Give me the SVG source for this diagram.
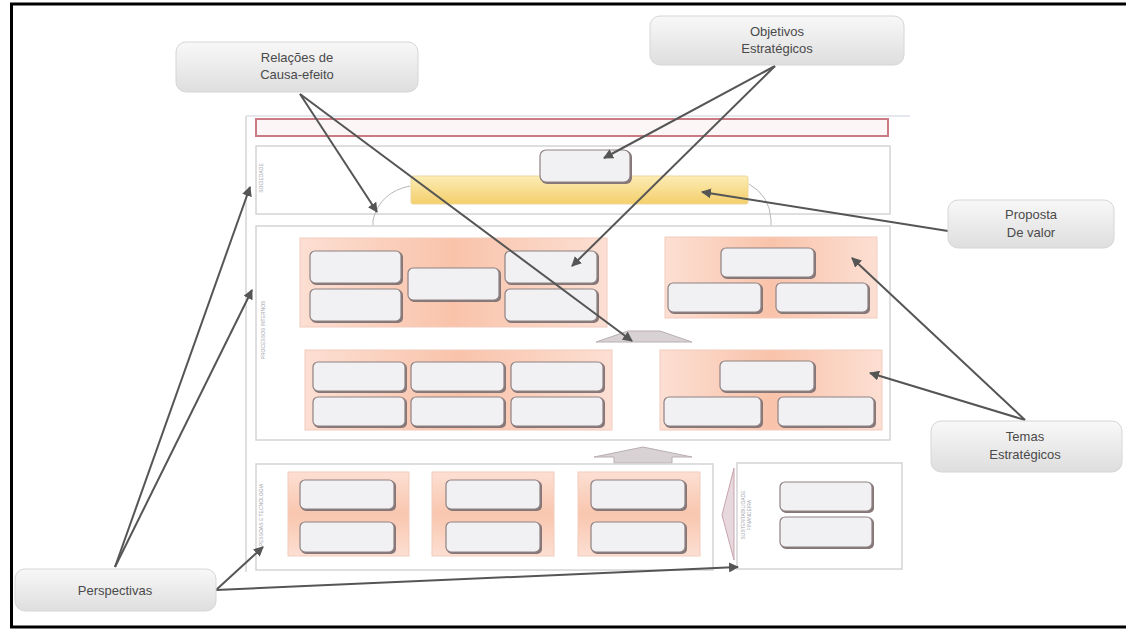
<svg xmlns="http://www.w3.org/2000/svg" width="1126" height="630" viewBox="0 0 1126 630">
<defs>
<linearGradient id="callG" x1="0" y1="0" x2="0" y2="1"><stop offset="0" stop-color="#f8f8f8"/><stop offset="1" stop-color="#dedede"/></linearGradient>
<linearGradient id="peachG" x1="0" y1="0" x2="1" y2="0"><stop offset="0" stop-color="#fcdfd3"/><stop offset="0.5" stop-color="#f9c3aa"/><stop offset="1" stop-color="#fcdfd3"/></linearGradient>
<linearGradient id="peachV" x1="0" y1="0" x2="0" y2="1"><stop offset="0" stop-color="#fcdfd3"/><stop offset="0.5" stop-color="#f9c6ae"/><stop offset="1" stop-color="#fcdfd3"/></linearGradient>
<linearGradient id="yelG" x1="0" y1="0" x2="0" y2="1"><stop offset="0" stop-color="#fcecb4"/><stop offset="1" stop-color="#f4cf6c"/></linearGradient>
<marker id="ah" viewBox="0 0 10 10" refX="9" refY="5" markerWidth="5" markerHeight="5" orient="auto"><path d="M0,0 L10,5 L0,10 z" fill="#555"/></marker>
</defs>
<style>
.frame{fill:none;stroke:#000;stroke-width:3}
.sec{fill:#fff;stroke:#d4d4d8;stroke-width:1.5}
.grp{fill:url(#peachG);stroke:#f2cbbd;stroke-width:1}
.grpv{fill:url(#peachV);stroke:#f2cbbd;stroke-width:1}
.sh{fill:#857677}
.bx{fill:#f1f1f3;stroke:#8f8182;stroke-width:1.2}
.call{fill:url(#callG);stroke:#d6d6d6;stroke-width:1}
.ct{font-family:"Liberation Sans",Arial,sans-serif;font-size:13px;fill:#4a4a4a;text-anchor:middle}
.vt{font-family:"Liberation Sans",Arial,sans-serif;font-size:5px;fill:#a0a0a8;text-anchor:middle}
.con{stroke:#555;stroke-width:2;fill:none;marker-end:url(#ah)}
.thin{stroke:#b8b8bc;stroke-width:1;fill:none}
.arw{fill:#d8d2d4;stroke:#b8aeb2;stroke-width:1}
</style>
<rect width="1126" height="630" fill="#fff"/>
<path class="frame" d="M1130,4 L11.5,4 L11.5,627 L1130,627"/>

<g id="map">
<line x1="246" y1="116" x2="910" y2="116" stroke="#dde0e6" stroke-width="1.5"/>
<line x1="246" y1="116" x2="246" y2="572" stroke="#d4d4d8" stroke-width="1.5"/>
<rect x="256" y="119" width="632" height="17" fill="#fdf6f6" stroke="#c97a82" stroke-width="2"/>
</g>

<g id="sociedade">
<rect class="sec" x="256" y="146" width="634" height="68"/>
<text class="vt" transform="translate(263,178) rotate(-90)">SOCIEDADE</text>
<rect x="411" y="176" width="337" height="28" fill="url(#yelG)" stroke="#ecd89a" stroke-width="1" rx="2"/>
<rect class="sh" x="541" y="151" width="91" height="33" rx="6"/>
<rect class="bx" x="540" y="150" width="90" height="32" rx="6"/>
<path class="thin" d="M373,238 L373,220 Q380,192 410,186"/>
<path class="thin" d="M749,184 Q770,196 771,220 L771,237"/>
</g>

<g id="processos">
<rect class="sec" x="256" y="226" width="634" height="214"/>
<text class="vt" transform="translate(265,330) rotate(-90)">PROCESSOS INTERNOS</text>
<rect class="grp" x="300" y="238" width="307" height="89"/>
<rect class="sh" x="311" y="252" width="92" height="33" rx="5"/><rect class="bx" x="310" y="251" width="91" height="32" rx="5"/>
<rect class="sh" x="311" y="290" width="92" height="33" rx="5"/><rect class="bx" x="310" y="289" width="91" height="32" rx="5"/>
<rect class="sh" x="409" y="269" width="92" height="33" rx="5"/><rect class="bx" x="408" y="268" width="91" height="32" rx="5"/>
<rect class="sh" x="506" y="252" width="93" height="33" rx="5"/><rect class="bx" x="505" y="251" width="92" height="32" rx="5"/>
<rect class="sh" x="506" y="290" width="93" height="33" rx="5"/><rect class="bx" x="505" y="289" width="92" height="32" rx="5"/>

<rect class="grp" x="665" y="237" width="212" height="81"/>
<rect class="sh" x="722" y="249" width="94" height="30" rx="5"/><rect class="bx" x="721" y="248" width="93" height="29" rx="5"/>
<rect class="sh" x="669" y="284" width="94" height="30" rx="5"/><rect class="bx" x="668" y="283" width="93" height="29" rx="5"/>
<rect class="sh" x="777" y="284" width="93" height="30" rx="5"/><rect class="bx" x="776" y="283" width="92" height="29" rx="5"/>

<polygon class="arw" points="596,342 628,331 660,331 692,342"/>

<rect class="grp" x="305" y="350" width="307" height="80"/>
<rect class="sh" x="314" y="363" width="93" height="30" rx="5"/><rect class="bx" x="313" y="362" width="92" height="29" rx="5"/>
<rect class="sh" x="412" y="363" width="94" height="30" rx="5"/><rect class="bx" x="411" y="362" width="93" height="29" rx="5"/>
<rect class="sh" x="512" y="363" width="93" height="30" rx="5"/><rect class="bx" x="511" y="362" width="92" height="29" rx="5"/>
<rect class="sh" x="314" y="398" width="93" height="30" rx="5"/><rect class="bx" x="313" y="397" width="92" height="29" rx="5"/>
<rect class="sh" x="412" y="398" width="94" height="30" rx="5"/><rect class="bx" x="411" y="397" width="93" height="29" rx="5"/>
<rect class="sh" x="512" y="398" width="93" height="30" rx="5"/><rect class="bx" x="511" y="397" width="92" height="29" rx="5"/>

<rect class="grp" x="660" y="350" width="222" height="80"/>
<rect class="sh" x="721" y="362" width="95" height="31" rx="5"/><rect class="bx" x="720" y="361" width="94" height="30" rx="5"/>
<rect class="sh" x="665" y="398" width="98" height="30" rx="5"/><rect class="bx" x="664" y="397" width="97" height="29" rx="5"/>
<rect class="sh" x="779" y="398" width="97" height="30" rx="5"/><rect class="bx" x="778" y="397" width="96" height="29" rx="5"/>
</g>

<g id="pessoas">
<polygon class="arw" points="594,457 643,447 692,457 672,457 672,463 614,463 614,457"/>
<rect class="sec" x="256" y="464" width="457" height="106"/>
<text class="vt" transform="translate(263,515) rotate(-90)">PESSOAS E TECNOLOGIA</text>
<rect class="grpv" x="288" y="472" width="121" height="84"/>
<rect class="sh" x="301" y="481" width="95" height="30" rx="5"/><rect class="bx" x="300" y="480" width="94" height="29" rx="5"/>
<rect class="sh" x="301" y="523" width="95" height="31" rx="5"/><rect class="bx" x="300" y="522" width="94" height="30" rx="5"/>
<rect class="grpv" x="432" y="472" width="122" height="84"/>
<rect class="sh" x="447" y="481" width="95" height="30" rx="5"/><rect class="bx" x="446" y="480" width="94" height="29" rx="5"/>
<rect class="sh" x="447" y="523" width="95" height="31" rx="5"/><rect class="bx" x="446" y="522" width="94" height="30" rx="5"/>
<rect class="grpv" x="578" y="472" width="122" height="84"/>
<rect class="sh" x="592" y="481" width="95" height="30" rx="5"/><rect class="bx" x="591" y="480" width="94" height="29" rx="5"/>
<rect class="sh" x="592" y="523" width="95" height="31" rx="5"/><rect class="bx" x="591" y="522" width="94" height="30" rx="5"/>
</g>

<g id="sustentabilidade">
<rect class="sec" x="737" y="463" width="165" height="106"/>
<polygon points="734,468 722,515 734,560" fill="#e6d8dc" stroke="#c8a4ae" stroke-width="1"/>
<text class="vt" transform="translate(745,515) rotate(-90)">SUSTENTABILIDADE</text>
<text class="vt" transform="translate(751,515) rotate(-90)">FINANCEIRA</text>
<rect class="sh" x="781" y="483" width="93" height="30" rx="5"/><rect class="bx" x="780" y="482" width="92" height="29" rx="5"/>
<rect class="sh" x="781" y="518" width="93" height="31" rx="5"/><rect class="bx" x="780" y="517" width="92" height="30" rx="5"/>
</g>

<g id="connectors">
<path class="con" d="M300,94 L377,212"/>
<path class="con" d="M300,94 L632,341"/>
<path class="con" d="M775,66 L604,158"/>
<path class="con" d="M775,66 L572,266"/>
<path class="con" d="M948,231 L702,192"/>
<path class="con" d="M1025,420 L852,258"/>
<path class="con" d="M1025,420 L870,373"/>
<path class="con" d="M115,567 L250,187"/>
<path class="con" d="M115,567 L252,290"/>
<path class="con" d="M216,590 L263,547"/>
<path class="con" d="M216,590 L738,567"/>
</g>

<g id="callout-relacoes">
<rect class="call" x="176" y="42" width="242" height="50" rx="10"/>
<text class="ct" x="297" y="62">Relações de</text>
<text class="ct" x="297" y="79">Causa-efeito</text>
</g>
<g id="callout-objetivos">
<rect class="call" x="650" y="16" width="254" height="49" rx="10"/>
<text class="ct" x="777" y="36">Objetivos</text>
<text class="ct" x="777" y="53">Estratégicos</text>
</g>
<g id="callout-proposta">
<rect class="call" x="948" y="200" width="166" height="48" rx="10"/>
<text class="ct" x="1031" y="219">Proposta</text>
<text class="ct" x="1031" y="237">De valor</text>
</g>
<g id="callout-temas">
<rect class="call" x="931" y="421" width="191" height="51" rx="10"/>
<text class="ct" x="1025" y="441">Temas</text>
<text class="ct" x="1025" y="459">Estratégicos</text>
</g>
<g id="callout-perspectivas">
<rect class="call" x="15" y="569" width="201" height="42" rx="10"/>
<text class="ct" x="115" y="595">Perspectivas</text>
</g>
</svg>
